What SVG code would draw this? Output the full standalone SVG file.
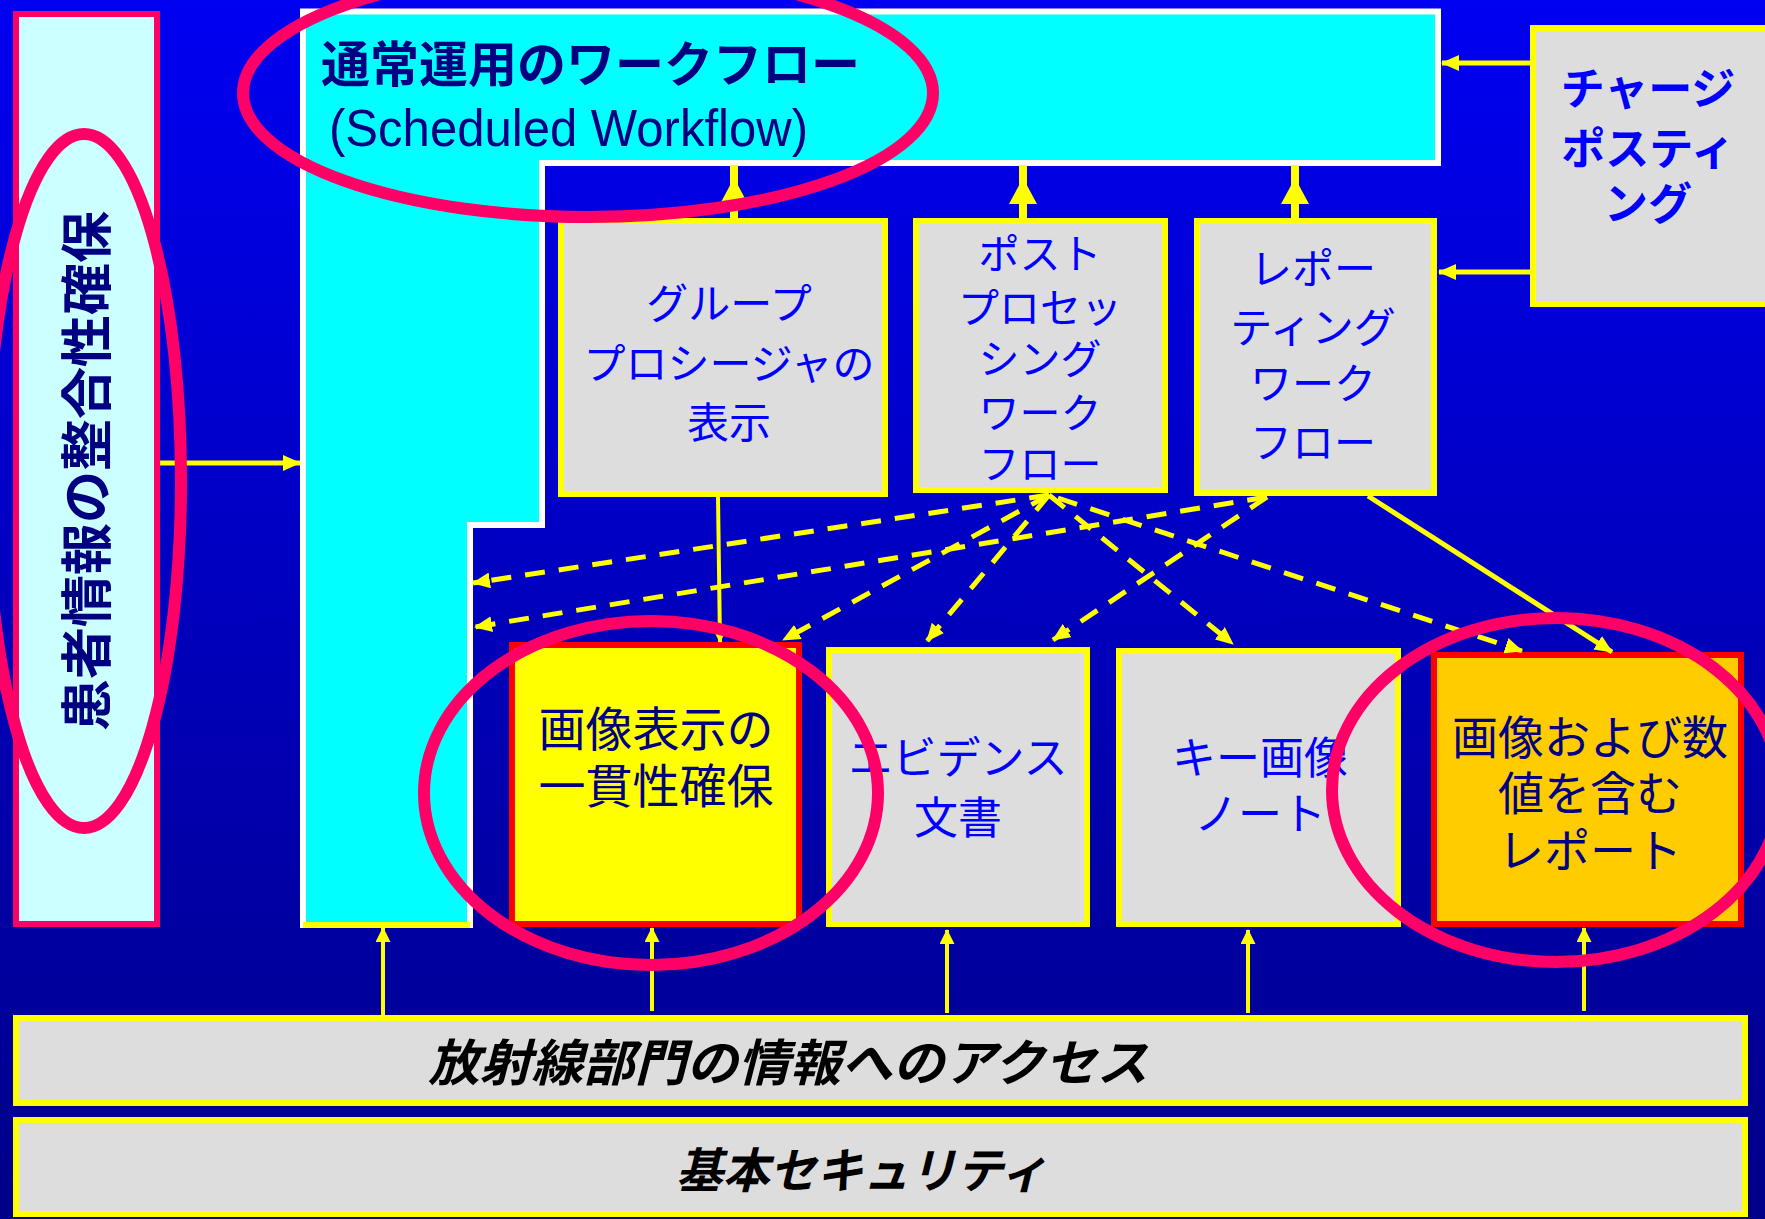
<svg xmlns="http://www.w3.org/2000/svg" width="1765" height="1219" viewBox="0 0 1765 1219">
<defs>
<linearGradient id="bg" x1="0" y1="0" x2="0" y2="1">
<stop offset="0" stop-color="#0000F2"/>
<stop offset="1" stop-color="#000088"/>
</linearGradient>
<marker id="a" markerUnits="userSpaceOnUse" markerWidth="18" markerHeight="16" refX="17" refY="8" orient="auto" viewBox="0 0 18 16"><path d="M0,0 L18,8 L0,16 z" fill="#FFFF00"/></marker>
<marker id="s" markerUnits="userSpaceOnUse" markerWidth="15" markerHeight="15" refX="14" refY="7.5" orient="auto" viewBox="0 0 15 15"><path d="M0,0 L15,7.5 L0,15 z" fill="#FFFF00"/></marker>
<style>
.jp{font-family:"Noto Sans CJK JP","Noto Sans CJK SC",sans-serif;}
.grey{fill:#DDDDDD;stroke:#FFFF00;stroke-width:6;}
.hi{stroke:#FF0000;stroke-width:6;}
.blue{fill:#0000FF;font-size:42px;text-anchor:middle;}
.navy{fill:#000080;text-anchor:middle;}
.ring{fill:none;stroke:#FF0066;stroke-width:12;}
.dash{fill:none;stroke:#FFFF00;stroke-width:5;stroke-dasharray:20 14;marker-end:url(#a);}
.sol{fill:none;stroke:#FFFF00;stroke-width:5;}
.thin{fill:none;stroke:#FFFF00;stroke-width:4;marker-end:url(#s);}
.bar{font-weight:bold;font-style:italic;fill:#000000;}
</style>
</defs>
<rect x="0" y="0" width="1765" height="1219" fill="url(#bg)"/>

<g id="scheduled-workflow">
<polygon points="303,11.5 1438,11.5 1438,163 542,163 542,525 470,525 470,925 303,925" fill="#00FFFF" stroke="#FFFFFF" stroke-width="6"/>
<line x1="303" y1="925" x2="470" y2="925" stroke="#FFFF00" stroke-width="6"/>
<text class="jp" x="321" y="82" font-size="49" font-weight="bold" fill="#000080">通常運用のワークフロー</text>
<text x="329" y="146" font-family="'Liberation Sans',Arial,sans-serif" font-size="52" fill="#000080" textLength="479" lengthAdjust="spacingAndGlyphs">(Scheduled Workflow)</text>
</g>

<g id="patient-info">
<rect x="16" y="14" width="141" height="910" fill="#CCFFFF" stroke="#FF0066" stroke-width="6"/>
<text class="jp" transform="translate(83,471) rotate(-90)" text-anchor="middle" dominant-baseline="central" font-size="52" font-weight="bold" fill="#000080">患者情報の整合性確保</text>
</g>

<g id="group-procedure">
<rect class="grey" x="561" y="221" width="324" height="273"/>
<text class="jp blue" x="729"><tspan x="729" y="319">グループ</tspan><tspan x="729" y="379">プロシージャの</tspan><tspan x="729" y="438">表示</tspan></text>
</g>

<g id="post-processing">
<rect class="grey" x="916" y="221" width="249" height="269"/>
<text class="jp blue" x="1040" style="font-size:41px"><tspan x="1040" y="269">ポスト</tspan><tspan x="1040" y="323">プロセッ</tspan><tspan x="1040" y="374">シング</tspan><tspan x="1040" y="428">ワーク</tspan><tspan x="1040" y="479">フロー</tspan></text>
</g>

<g id="reporting-workflow">
<rect class="grey" x="1197" y="221" width="237" height="272"/>
<text class="jp blue" x="1313"><tspan x="1313" y="284">レポー</tspan><tspan x="1313" y="343">ティング</tspan><tspan x="1313" y="399">ワーク</tspan><tspan x="1313" y="458">フロー</tspan></text>
</g>

<g id="charge-posting">
<rect class="grey" x="1533" y="28" width="250" height="276"/>
<text class="jp blue" x="1648" style="font-size:44px;font-weight:bold"><tspan x="1648" y="105">チャージ</tspan><tspan x="1648" y="165">ポスティ</tspan><tspan x="1648" y="220">ング</tspan></text>
</g>

<g id="consistent-presentation">
<rect class="hi" x="512" y="645" width="287" height="279" fill="#FFFF00"/>
<text class="jp navy" x="656" font-size="47"><tspan x="656" y="746">画像表示の</tspan><tspan x="656" y="803">一貫性確保</tspan></text>
</g>

<g id="evidence-documents">
<rect class="grey" x="829" y="650" width="258" height="274"/>
<text class="jp blue" x="958" style="font-size:44px"><tspan x="958" y="774">エビデンス</tspan><tspan x="958" y="834">文書</tspan></text>
</g>

<g id="key-image-note">
<rect class="grey" x="1119" y="651" width="279" height="273"/>
<text class="jp blue" x="1260" style="font-size:44px"><tspan x="1260" y="774">キー画像</tspan><tspan x="1260" y="830">ノート</tspan></text>
</g>

<g id="simple-image-numeric-report">
<rect class="hi" x="1434" y="655" width="307" height="269" fill="#FFCC00"/>
<text class="jp navy" x="1590" font-size="46"><tspan x="1590" y="754">画像および数</tspan><tspan x="1590" y="810">値を含む</tspan><tspan x="1590" y="867">レポート</tspan></text>
</g>

<g id="access-radiology-info">
<rect class="grey" x="16" y="1018" width="1729" height="85"/>
<text class="jp bar" x="428" y="1081" font-size="50" textLength="720" lengthAdjust="spacingAndGlyphs">放射線部門の情報へのアクセス</text>
</g>

<g id="basic-security">
<rect class="grey" x="16" y="1120" width="1729" height="94"/>
<text class="jp bar" x="676" y="1188" font-size="48" textLength="371" lengthAdjust="spacingAndGlyphs">基本セキュリティ</text>
</g>

<g id="connectors">
<line class="sol" x1="160" y1="463" x2="300" y2="463" marker-end="url(#a)"/>
<line class="sol" x1="1530" y1="63" x2="1442" y2="63" marker-end="url(#a)"/>
<line class="sol" x1="1530" y1="272" x2="1439" y2="272" marker-end="url(#a)"/>
<g fill="#FFFF00">
<rect x="730" y="165" width="8" height="54"/>
<polygon points="734,178 748,204 720,204"/>
<rect x="1019" y="165" width="8" height="54"/>
<polygon points="1023,178 1037,204 1009,204"/>
<rect x="1291" y="165" width="8" height="54"/>
<polygon points="1295,178 1309,204 1281,204"/>
</g>
<line class="thin" x1="383" y1="1016" x2="383" y2="928"/>
<line class="thin" x1="652" y1="1011" x2="652" y2="928"/>
<line class="thin" x1="947" y1="1013" x2="947" y2="930"/>
<line class="thin" x1="1248" y1="1013" x2="1248" y2="930"/>
<line class="thin" x1="1584" y1="1011" x2="1584" y2="928"/>
<line class="dash" x1="1049" y1="495" x2="473" y2="583"/>
<line class="dash" x1="1267" y1="497" x2="475" y2="627"/>
<line class="dash" x1="1049" y1="495" x2="783" y2="640"/>
<line class="dash" x1="1049" y1="495" x2="927" y2="641"/>
<line class="dash" x1="1267" y1="497" x2="1053" y2="640"/>
<line class="dash" x1="1049" y1="495" x2="1233" y2="644"/>
<line class="dash" x1="1058" y1="498" x2="1522" y2="651"/>
<line class="sol" x1="1368" y1="496" x2="1612" y2="652" marker-end="url(#a)"/>
<line class="thin" x1="718" y1="497" x2="720" y2="642"/>
</g>

<g id="highlights">
<ellipse class="ring" cx="588" cy="93" rx="345" ry="124"/>
<ellipse class="ring" cx="84" cy="481" rx="97" ry="347"/>
<ellipse class="ring" cx="651" cy="793" rx="227" ry="172"/>
<ellipse class="ring" cx="1556" cy="790" rx="224" ry="172"/>
</g>
</svg>
